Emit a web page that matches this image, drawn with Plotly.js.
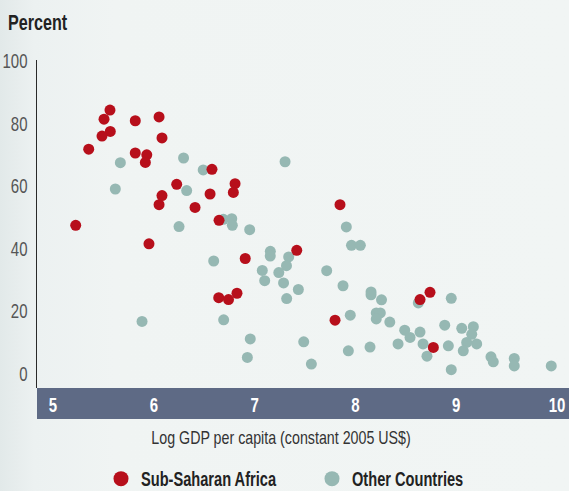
<!DOCTYPE html>
<html>
<head>
<meta charset="utf-8">
<script src="https://cdn.plot.ly/plotly-3.0.1.min.js"></script>
<style>
  html, body { margin: 0; padding: 0; }
  body { width: 569px; height: 491px; overflow: hidden;
         background: linear-gradient(to right, #e2e9e9 0%, #ecf1f1 6%, #f0f4f3 20%, #f1f5f4 100%); }
  #chart { width: 569px; height: 491px; }
</style>
</head>
<body>
<div id="chart"></div>
<script>
// Sub-Saharan Africa
var ssaX = [5.565, 5.506, 5.816, 6.052, 5.568, 5.486, 6.081, 5.354, 5.816, 5.930, 5.916, 6.227, 6.081, 6.052, 6.409, 5.225, 5.952, 6.577, 6.558, 6.806, 6.789, 6.647, 7.847, 7.418, 6.907, 6.644, 6.741, 6.825, 7.798, 8.641, 8.740, 8.773];
var ssaY = [84.3, 81.4, 80.9, 82.1, 77.5, 76.0, 75.4, 71.8, 70.6, 70.0, 67.6, 60.6, 57.0, 54.1, 53.2, 47.5, 41.6, 65.4, 57.5, 60.8, 58.0, 49.1, 54.1, 39.5, 36.9, 24.4, 23.8, 25.8, 17.2, 23.8, 26.1, 8.5];

// Other Countries
var othX = [5.668, 6.295, 6.490, 5.618, 6.326, 6.250, 7.302, 6.690, 6.773, 6.779, 6.951, 6.594, 7.156, 7.155, 7.338, 7.316, 7.076, 7.240, 7.100, 7.287, 7.434, 7.318, 7.715, 7.910, 7.961, 8.049, 7.877, 8.155, 8.155, 8.259, 5.883, 6.693, 7.949, 8.207, 8.247, 8.207, 8.341, 6.957, 6.928, 7.487, 7.563, 7.930, 8.145, 8.423, 8.624, 8.951, 8.489, 8.542, 8.641, 8.671, 8.710, 8.886, 9.055, 9.170, 9.154, 9.104, 8.922, 9.203, 9.070, 8.951, 9.345, 9.368, 9.576, 9.576, 9.943];
var othY = [67.5, 69.0, 65.2, 59.1, 58.6, 47.1, 67.8, 49.4, 49.6, 47.5, 46.1, 36.1, 39.2, 37.7, 37.4, 34.6, 33.1, 32.4, 29.8, 29.1, 27.0, 24.1, 33.0, 47.0, 41.1, 41.1, 28.2, 26.2, 25.3, 23.7, 16.8, 17.3, 18.8, 19.5, 19.5, 17.6, 16.6, 11.2, 5.3, 10.3, 3.2, 7.4, 8.6, 9.6, 22.7, 24.2, 14.0, 11.7, 13.4, 9.6, 5.7, 15.6, 14.6, 15.1, 12.7, 10.1, 9.0, 9.6, 7.4, 1.4, 5.5, 3.9, 5.0, 2.6, 2.6];

var seriesNames = ['Sub-Saharan Africa', 'Other Countries'];
var xTickVals = [5, 6, 7, 8, 9, 10];
var yTickVals = [0, 20, 40, 60, 80, 100];
var xTitle = 'Log GDP per capita (constant 2005 US$)';
var yTitle = 'Percent';

var RED = '#b70f1b';
var GREY = '#96b8b3';
var FONT = '"Liberation Sans", Arial, sans-serif';

var traces = [
  { x: othX, y: othY, type: 'scatter', mode: 'markers', name: seriesNames[1], showlegend: false,
    marker: { color: GREY, size: 11, line: { width: 0 } }, hoverinfo: 'skip' },
  { x: ssaX, y: ssaY, type: 'scatter', mode: 'markers', name: seriesNames[0], showlegend: false,
    marker: { color: RED, size: 11, line: { width: 0 } }, hoverinfo: 'skip' },
  // legend entries
  { x: [null], y: [null], type: 'scatter', mode: 'markers', name: seriesNames[0], legend: 'legend',
    marker: { color: RED, size: 15 } },
  { x: [null], y: [null], type: 'scatter', mode: 'markers', name: seriesNames[1], legend: 'legend2',
    marker: { color: GREY, size: 15 } }
];

var legendFont = { family: FONT, size: 19.5, color: '#222', weight: 'bold' };

var layout = {
  width: 569, height: 491,
  margin: { l: 37, r: 0, t: 60, b: 103, pad: 0 },
  paper_bgcolor: 'rgba(0,0,0,0)',
  plot_bgcolor: 'rgba(0,0,0,0)',
  title: { text: '<b>' + yTitle + '</b>', x: 8 / 569, xanchor: 'left', xref: 'container',
           y: 1 - 22 / 491, yanchor: 'middle', yref: 'container',
           font: { family: FONT, size: 21.5, color: '#222' } },
  xaxis: {
    range: [4.841, 10.119], tickvals: xTickVals, ticktext: xTickVals.map(String),
    showgrid: false, zeroline: false, showline: false, ticks: '',
    tickfont: { family: FONT, size: 20, color: '#ffffff', weight: 'bold' },
    ticklabelstandoff: 3, ticklabeloverflow: 'allow',
    automargin: false
  },
  yaxis: {
    range: [-4.46, 100.3], tickvals: yTickVals, ticktext: yTickVals.map(String),
    showgrid: false, zeroline: false, showline: true, linecolor: '#2a2a2a', linewidth: 1.5,
    ticks: '', ticklabelstandoff: 4, automargin: false, ticklabeloverflow: 'allow',
    tickfont: { family: FONT, size: 20, color: '#555555' }
  },
  annotations: [
    { text: xTitle, xref: 'paper', yref: 'paper', x: (281 - 37) / 532, y: (388 - 437) / 328,
      xanchor: 'center', yanchor: 'middle', showarrow: false,
      font: { family: FONT, size: 19, color: '#333' } }
  ],
  shapes: [
    { type: 'rect', xref: 'paper', yref: 'paper', x0: 0, x1: 1, y0: (388 - 419) / 328, y1: 0,
      fillcolor: '#5e6a85', line: { width: 0 }, layer: 'below' }
  ],
  legend: { orientation: 'h', xref: 'container', yref: 'container', x: 101 / 569, y: 1 - 479 / 491,
            xanchor: 'left', yanchor: 'middle', bgcolor: 'rgba(0,0,0,0)', font: legendFont },
  legend2: { orientation: 'h', xref: 'container', yref: 'container', x: 312 / 569, y: 1 - 479 / 491,
             xanchor: 'left', yanchor: 'middle', bgcolor: 'rgba(0,0,0,0)', font: legendFont },
  showlegend: true,
  hovermode: false
};

// Condense text horizontally (the original uses a condensed typeface)
function condense(gd, s) {
  gd.querySelectorAll('text').forEach(function (t) {
    if (!t.textContent) return;
    var b = t.getBBox();
    var anchor = t.getAttribute('text-anchor') || 'start';
    var ax = anchor === 'middle' ? b.x + b.width / 2 : (anchor === 'end' ? b.x + b.width : b.x);
    var tr = t.getAttribute('transform') || '';
    t.setAttribute('transform', tr + ' translate(' + ax + ',0) scale(' + s + ',1) translate(' + (-ax) + ',0)');
  });
}

Plotly.newPlot('chart', traces, layout, { displayModeBar: false, staticPlot: true })
  .then(function (gd) { condense(gd, 0.75); });
</script>
</body>
</html>
